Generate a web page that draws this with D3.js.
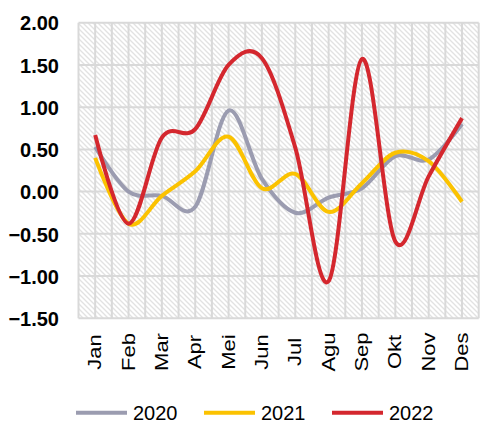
<!DOCTYPE html>
<html>
<head>
<meta charset="utf-8">
<script src="https://cdn.jsdelivr.net/npm/d3@7"></script>
<style>
  body { margin: 0; background: #fff; }
  text { font-family: Arial, "Liberation Sans", sans-serif; fill: #000; }
</style>
</head>
<body>
<svg id="chart" width="481" height="423"></svg>
<script>
// months (Indonesian labels)
const months = ["Jan", "Feb", "Mar", "Apr", "Mei", "Jun", "Jul", "Agu", "Sep", "Okt", "Nov", "Des"];
const years = ["2020", "2021", "2022"];
const values2020 = [0.53, 0.0, -0.05, -0.18, 0.96, 0.15, -0.25, -0.07, 0.04, 0.42, 0.38, 0.80];
const values2021 = [0.40, -0.38, -0.05, 0.24, 0.65, 0.04, 0.21, -0.24, 0.10, 0.46, 0.36, -0.12];
const values2022 = [0.67, -0.38, 0.64, 0.74, 1.50, 1.58, 0.52, -1.06, 1.57, -0.59, 0.18, 0.87];
const yTicks = [-1.5, -1.0, -0.5, 0.0, 0.5, 1.0, 1.5, 2.0];
const colors = ["#9b9cb0", "#fbc200", "#d4272e"];

const series = [values2020, values2021, values2022];

let svg = d3.select("#chart");

let xScale = d3.scaleBand()
    .domain(months)
    .range([78.5, 478.7])
    .padding(0);
let yScale = d3.scaleLinear()
    .domain([-1.5, 2])
    .range([318.3, 22.7]);

let half = xScale.bandwidth() / 2;
let cx = m => xScale(m) + half;

// hatch background
let defs = svg.append("defs");
let pat = defs.append("pattern")
    .attr("id", "hatch")
    .attr("patternUnits", "userSpaceOnUse")
    .attr("width", 5)
    .attr("height", 5);
pat.append("rect").attr("width", 5).attr("height", 5).attr("fill", "#ffffff");
pat.append("path")
    .attr("d", "M-1,-1 L6,6 M-1,4 L1,6 M4,-1 L6,1")
    .attr("stroke", "#e2e2e2")
    .attr("stroke-width", 1.3);

svg.append("rect")
    .attr("x", xScale.range()[0])
    .attr("y", yScale(2))
    .attr("width", xScale.range()[1] - xScale.range()[0])
    .attr("height", yScale(-1.5) - yScale(2))
    .attr("fill", "url(#hatch)");

// grid: horizontal at ticks, vertical at band edges and centers
let grid = svg.append("g");
grid.selectAll("line.h")
    .data(yTicks)
    .enter()
    .append("line")
    .attr("x1", xScale.range()[0])
    .attr("x2", xScale.range()[1])
    .attr("y1", d => yScale(d))
    .attr("y2", d => yScale(d))
    .attr("stroke", "#d9d9d9")
    .attr("stroke-width", 2);

let vx = [];
months.forEach(m => { vx.push(xScale(m)); vx.push(cx(m)); });
vx.push(xScale.range()[1]);
grid.selectAll("line.v")
    .data(vx)
    .enter()
    .append("line")
    .attr("x1", d => d)
    .attr("x2", d => d)
    .attr("y1", yScale(2))
    .attr("y2", yScale(-1.5))
    .attr("stroke", "#d9d9d9")
    .attr("stroke-width", 2);

// y axis labels
let yAxis = d3.axisLeft(yScale)
    .tickValues(yTicks)
    .tickSize(0)
    .tickPadding(0)
    .tickFormat(d3.format(".2f"));
svg.append("g")
    .attr("transform", "translate(59,0)")
    .call(yAxis)
    .call(g => g.select(".domain").remove())
    .call(g => g.selectAll("text")
        .attr("font-size", 20)
        .attr("font-weight", "bold")
        .attr("font-family", "Arial, 'Liberation Sans', sans-serif")
        .attr("fill", "#000")
        .attr("dy", "0.36em"));

// x labels, rotated (slightly stretched like the source)
svg.append("g")
    .selectAll("text")
    .data(months)
    .enter()
    .append("text")
    .attr("transform", d => `translate(${cx(d) + 6},352) rotate(-90) scale(1.1,0.95)`)
    .attr("text-anchor", "middle")
    .attr("font-size", 20)
    .text(d => d);

// lines
let line = d3.line()
    .x((d, i) => cx(months[i]))
    .y(d => yScale(d))
    .curve(d3.curveCardinal.tension(0));

svg.append("g")
    .selectAll("path")
    .data(series)
    .enter()
    .append("path")
    .attr("d", d => line(d))
    .attr("fill", "none")
    .attr("stroke", (d, i) => colors[i])
    .attr("stroke-width", 4)
    .attr("stroke-linejoin", "round");

// legend
let legendX = [76, 204, 332];
let legend = svg.append("g");
years.forEach((y, i) => {
    legend.append("line")
        .attr("x1", legendX[i])
        .attr("x2", legendX[i] + 51)
        .attr("y1", 412.7)
        .attr("y2", 412.7)
        .attr("stroke", colors[i])
        .attr("stroke-width", 4);
    legend.append("text")
        .attr("x", legendX[i] + 57)
        .attr("y", 420)
        .attr("font-size", 20)
        .text(y);
});
</script>
</body>
</html>
